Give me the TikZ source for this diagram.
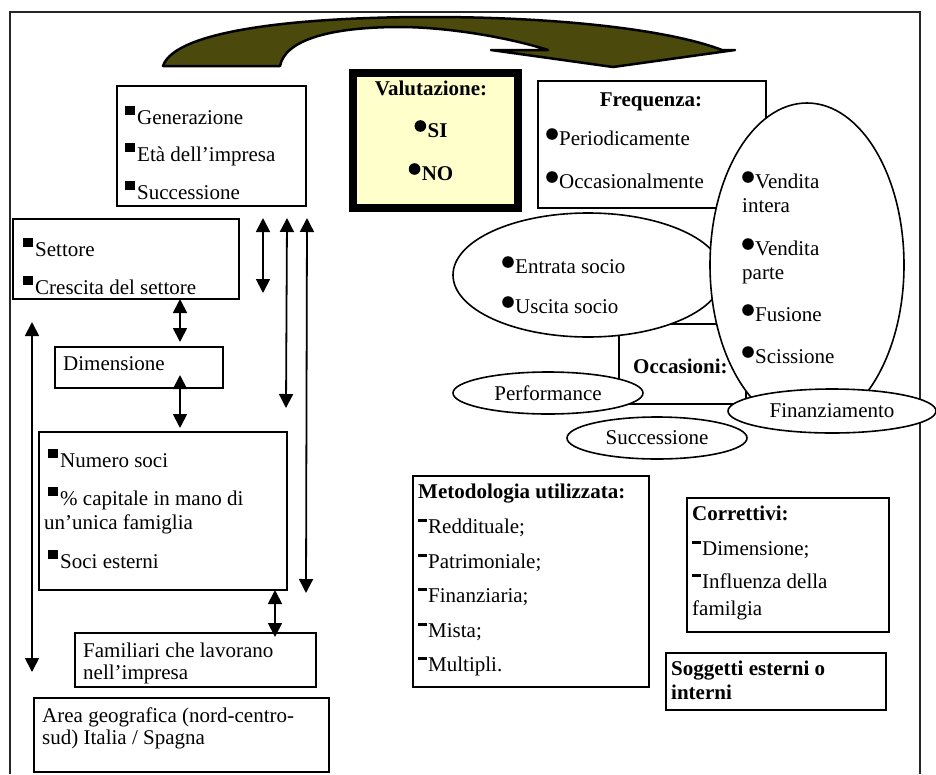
\documentclass[tikz,border=0pt]{standalone}
\usepackage{fontspec}
\setmainfont{Liberation Serif}
\usetikzlibrary{arrows.meta,shapes.geometric}
\definecolor{olivearrow}{RGB}{76,73,12}
\definecolor{paleyellow}{RGB}{255,255,204}
\newcommand\sqb{\raisebox{9pt}{\rule{10pt}{9.5pt}}\hspace{2pt}}
\newcommand\cbul{\tikz[baseline=0pt]{\fill (5.8pt,11pt) circle[radius=5.8pt]; \path (0pt,0pt) (12.5pt,0pt);}\hspace{0.5pt}}
\newcommand\dsh{\raisebox{11.5pt}{\rule{8.5pt}{2.3pt}}\hspace{1.5pt}}
\begin{document}
\begin{tikzpicture}[x=1pt,y=-1pt,
  box/.style={draw, line width=1.6pt, anchor=north west, inner sep=0pt},
  txt/.style={anchor=base west, inner sep=0pt, font=\fontsize{21}{24}\selectfont},
  txtb/.style={anchor=base west, inner sep=0pt, font=\fontsize{21}{24}\selectfont\bfseries},
  ctxt/.style={anchor=base, inner sep=0pt, font=\fontsize{21}{24}\selectfont},
  ell/.style={draw, ellipse, line width=1.6pt, fill=white, inner sep=0pt, font=\fontsize{21}{24}\selectfont},
  dbl/.style={{Triangle[width=14pt,length=14pt]}-{Triangle[width=14pt,length=14pt]}, line width=1.8pt}]
\useasboundingbox (0,0) rectangle (936,774);
% outer frame
\draw[line width=1.3pt, black!85] (10,774) -- (10,12) -- (920,12) -- (920,774);
% curved arrow
\draw[fill=olivearrow, line width=2.5pt, line join=round]
  (163,66) .. controls (175,30) and (300,17) .. (430,17)
  .. controls (560,17) and (670,30) .. (722,50)
  -- (735,50) -- (613,67) -- (491,50) -- (548,50)
  .. controls (500,35) and (440,27) .. (400,27)
  .. controls (330,27) and (285,40) .. (280,66) -- cycle;
% boxes
\node[box, minimum width=189pt, minimum height=120pt] (gen) at (116,85) {};
\node[draw, line width=8pt, fill=paleyellow, anchor=north west, inner sep=0pt, minimum width=165pt, minimum height=135pt] (val) at (349,69) {};
\node[box, minimum width=228pt, minimum height=127pt] (freq) at (537,80) {};
\node[box, minimum width=226pt, minimum height=80pt] (sett) at (12,218) {};
\node[box, minimum width=168pt, minimum height=41pt] (dim) at (54,346) {};
\node[box, minimum width=248pt, minimum height=158pt] (num) at (38,431) {};
\node[box, minimum width=241pt, minimum height=54pt] (fam) at (74,632) {};
\node[box, minimum width=295pt, minimum height=74pt] (area) at (33,697) {};
\node[box, minimum width=236pt, minimum height=211pt] (met) at (412,475) {};
\node[box, minimum width=202pt, minimum height=134pt] (cor) at (686,497) {};
\node[box, minimum width=220pt, minimum height=57pt] (sog) at (665,652) {};
\node[box, minimum width=127pt, minimum height=80pt] (occ) at (618,323) {};
% ellipses
\node[ell, minimum width=270pt, minimum height=124pt] (socio) at (588,275) {};
\node[ell, minimum width=194pt, minimum height=324pt] (vend) at (807,265) {};
\node[ell, minimum width=190pt, minimum height=42pt] (perf) at (548,393) {Performance};
\node[ell, minimum width=180pt, minimum height=42pt] (succ) at (657,438) {Successione};
\node[ell, minimum width=208pt, minimum height=44pt] (fin) at (832,411) {Finanziamento};
% texts
\node[txt] (g1) at (125,124) {\sqb Generazione};
\node[txt] (g2) at (125,161) {\sqb Età dell’impresa};
\node[txt] (g3) at (125,199) {\sqb Successione};
\node[ctxt, font=\fontsize{21}{24}\selectfont\bfseries] (v1) at (431,95) {Valutazione:};
\node[ctxt] (v2) at (431,137) {\cbul\textbf{SI}};
\node[ctxt] (v3) at (431,180) {\cbul\textbf{NO}};
\node[ctxt, font=\fontsize{21}{24}\selectfont\bfseries] (f1) at (651,106) {Frequenza:};
\node[txt] (f2) at (546,145) {\cbul Periodicamente};
\node[txt] (f3) at (546,188) {\cbul Occasionalmente};
\node[txt] (e1) at (742,188) {\cbul Vendita};
\node[txt] (e2) at (742,212) {intera};
\node[txt] (e3) at (742,255) {\cbul Vendita};
\node[txt] (e4) at (742,279) {parte};
\node[txt] (e5) at (742,321) {\cbul Fusione};
\node[txt] (e6) at (742,363) {\cbul Scissione};
\node[txt] (s1) at (502,273) {\cbul Entrata socio};
\node[txt] (s2) at (502,313) {\cbul Uscita socio};
\node[txtb] (o1) at (633,373) {Occasioni:};
\node[txt] (st1) at (23,256) {\sqb Settore};
\node[txt] (st2) at (23,294) {\sqb Crescita del settore};
\node[txt] (d1) at (63,370) {Dimensione};
\node[txt] (n1) at (48,467) {\sqb Numero soci};
\node[txt] (n2) at (48,505) {\sqb\% capitale in mano di};
\node[txt] (n3) at (44,529) {un’unica famiglia};
\node[txt] (n4) at (48,568) {\sqb Soci esterni};
\node[txt] (fa1) at (83,657) {Familiari che lavorano};
\node[txt] (fa2) at (83,679) {nell’impresa};
\node[txt] (a1) at (42,722) {Area geografica (nord-centro-};
\node[txt] (a2) at (42,744) {sud) Italia / Spagna};
\node[txtb] (m1) at (418,498) {Metodologia utilizzata:};
\node[txt] (m2) at (418,533) {\dsh Reddituale;};
\node[txt] (m3) at (418,568) {\dsh Patrimoniale;};
\node[txt] (m4) at (418,602) {\dsh Finanziaria;};
\node[txt] (m5) at (418,637) {\dsh Mista;};
\node[txt] (m6) at (418,671) {\dsh Multipli.};
\node[txtb] (c1) at (692,520) {Correttivi:};
\node[txt] (c2) at (692,555) {\dsh Dimensione;};
\node[txt] (c3) at (692,588) {\dsh Influenza della};
\node[txt] (c4) at (692,615) {familgia};
\node[txtb] (so1) at (671,675) {Soggetti esterni o};
\node[txtb] (so2) at (671,699) {interni};
% arrows
\coordinate (pa1) at (263,218); \coordinate (pa2) at (263,293);
\coordinate (pb1) at (287,218); \coordinate (pb2) at (286,408);
\coordinate (pc1) at (307,218); \coordinate (pc2) at (306,593);
\coordinate (pd1) at (180,299); \coordinate (pd2) at (180,342);
\coordinate (pe1) at (180,375); \coordinate (pe2) at (180,428);
\coordinate (pf1) at (275,590); \coordinate (pf2) at (275,637);
\coordinate (pg1) at (32,322);  \coordinate (pg2) at (32,672);
\draw[dbl] (pa1) -- (pa2);
\draw[dbl] (pb1) -- (pb2);
\draw[dbl] (pc1) -- (pc2);
\draw[dbl] (pd1) -- (pd2);
\draw[dbl] (pe1) -- (pe2);
\draw[dbl] (pf1) -- (pf2);
\draw[dbl] (pg1) -- (pg2);
\end{tikzpicture}
\end{document}
